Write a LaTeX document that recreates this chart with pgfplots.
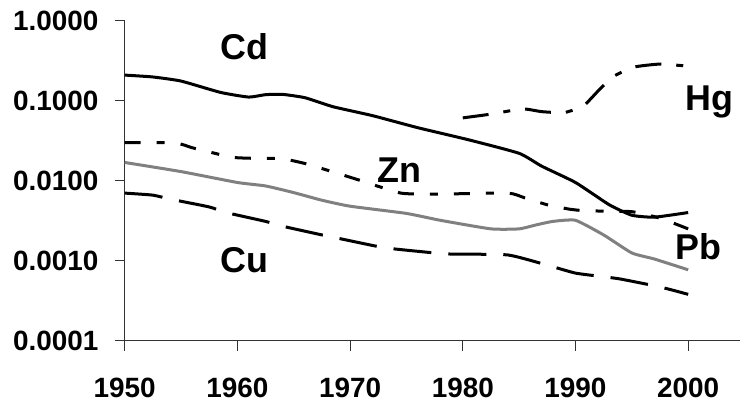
\documentclass[border=0pt]{standalone}
\usepackage{pgfplots}
\pgfplotsset{compat=1.18}
\usepackage{fontspec}
\setmainfont{Liberation Sans}
\begin{document}
\begin{tikzpicture}
\begin{axis}[
  at={(0,0)}, anchor=south west,
  scale only axis,
  width=615.3bp, height=320bp,
  xmin=1950, xmax=2004.6,
  ymode=log, ymin=0.0001, ymax=1,
  axis x line=bottom, axis y line=left,
  axis line style={-, line width=1bp, black!80},
  tick align=outside,
  major tick length=10bp,
  tick style={line width=1bp, black!80},
  xtick={1950,1960,1970,1980,1990,2000},
  xticklabels={\textbf{1950},\textbf{1960},\textbf{1970},\textbf{1980},\textbf{1990},\textbf{2000}},
  ytick={0.0001,0.001,0.01,0.1,1},
  yticklabels={\textbf{0.0001},\textbf{0.0010},\textbf{0.0100},\textbf{0.1000},\textbf{1.0000}},
  minor ytick={},
  yminorticks=false,
  ticklabel style={font=\fontsize{28}{30}\selectfont\bfseries},
  xticklabel style={anchor=north, inner sep=0pt, yshift=-27bp},
  yticklabel style={anchor=east, inner sep=0pt, xshift=-16bp},
  clip=false,
]
% Cd
\addplot[black, line width=3bp, smooth, tension=0.3] coordinates {
(1950,0.209) (1952.5,0.198) (1955,0.176) (1958.5,0.127) (1961,0.111)
(1962.5,0.119) (1964,0.120) (1966,0.109) (1968.5,0.084) (1972,0.065)
(1976,0.046) (1980.5,0.0325) (1985,0.022) (1987,0.0152) (1990,0.0095)
(1993,0.0050) (1995,0.0037) (1997,0.0035) (2000,0.0040)};
% Hg
\addplot[black, line width=3bp, smooth, tension=0.3, dash pattern=on 26bp off 15bp on 7bp off 15bp] coordinates {
(1980,0.061) (1982.5,0.068) (1985.3,0.079) (1987,0.073) (1989,0.071)
(1990.7,0.086) (1992,0.132) (1993.3,0.198) (1995.1,0.262) (1997.5,0.287) (2000,0.270)};
% Zn
\addplot[black, line width=3bp, smooth, tension=0.3, dash pattern=on 16bp off 16bp on 8bp off 16bp] coordinates {
(1950,0.0300) (1954.5,0.0296) (1956,0.0258) (1958,0.0220) (1959.5,0.0196)
(1961,0.0191) (1964,0.0188) (1966,0.0164) (1967.5,0.0142) (1970.5,0.0105)
(1972.5,0.0085) (1974.5,0.0070) (1976,0.0068) (1978,0.0068) (1984,0.0070)
(1985.5,0.0061) (1987.5,0.0050) (1989.5,0.0044) (1991,0.0042) (1995,0.0041)
(1997.5,0.0034) (2000,0.0025)};
% Pb
\addplot[color={rgb,255:red,128;green,128;blue,128}, line width=3bp, smooth, tension=0.3] coordinates {
(1950,0.0169) (1955,0.0130) (1960,0.0095) (1962.5,0.0086) (1965,0.0071)
(1967.5,0.0057) (1970,0.0048) (1975,0.0039) (1978,0.0032) (1982.5,0.0025)
(1985,0.0025) (1986.5,0.0028) (1988,0.0031) (1990,0.0032) (1992.5,0.0021)
(1995,0.00125) (1997,0.00105) (2000,0.00077)};
% Cu
\addplot[black, line width=3bp, smooth, tension=0.3, dash pattern=on 38bp off 17bp] coordinates {
(1950,0.0070) (1952.5,0.0066) (1954,0.0059) (1957.5,0.0047) (1959,0.0040)
(1962.5,0.0031) (1964,0.0027) (1967.5,0.0021) (1969,0.0019) (1972.5,0.0015)
(1974,0.0014) (1977.5,0.00125) (1979,0.00121) (1984,0.00118) (1987.5,0.00088)
(1990,0.00070) (1992.5,0.00063) (1994,0.00059) (1997.5,0.00047) (2000,0.00038)};
\begin{scope}[every node/.style={font=\fontsize{36}{40}\selectfont\bfseries, inner sep=0pt}]
\node at (axis cs:1960.6,0.469) {Cd};
\node at (axis cs:2001.9,0.0963) {Hg};
\node at (axis cs:1974.4,0.0136) {Zn};
\node at (axis cs:1960.6,0.00102) {Cu};
\node at (axis cs:2000.9,0.00148) {Pb};
\end{scope}
\end{axis}
\pgfresetboundingbox
\path[use as bounding box] (-124.7bp,-68.3bp) rectangle (615.3bp,340.7bp);
\end{tikzpicture}
\end{document}
